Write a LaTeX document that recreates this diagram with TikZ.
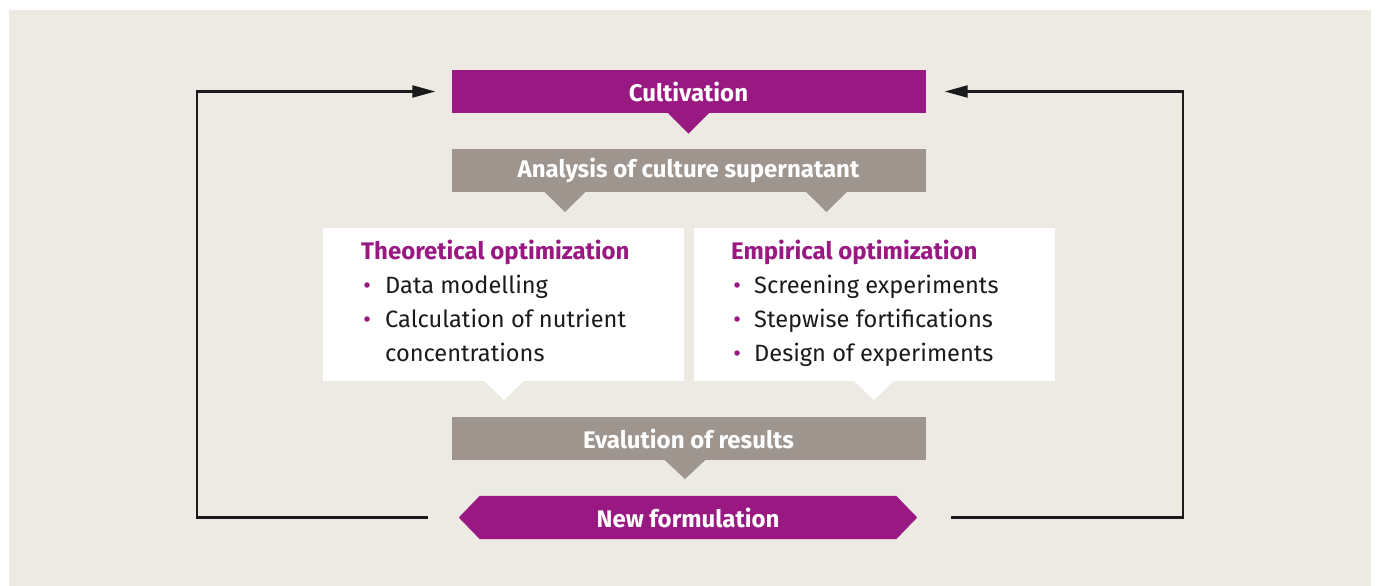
\documentclass[tikz,border=0pt]{standalone}
\usepackage{fontspec}
\setmainfont{Fira Sans}
\usetikzlibrary{arrows.meta,backgrounds}
\definecolor{bg}{RGB}{237,234,227}
\definecolor{purp}{RGB}{154,24,129}
\definecolor{greyb}{RGB}{158,149,143}
\definecolor{ink}{RGB}{26,26,26}
\tikzset{
 box/.style={minimum width=474pt, minimum height=43pt, inner sep=0pt, text=white, font=\fontsize{24}{28}\selectfont\bfseries},
 purpbox/.style={box, fill=purp},
 greybox/.style={box, fill=greyb},
 card/.style={fill=white, minimum width=361pt, minimum height=153pt, inner sep=0pt},
 head/.style={anchor=base west, text=purp, font=\fontsize{24}{28}\selectfont\bfseries, inner sep=0pt},
 item/.style={anchor=base west, text=ink, font=\fontsize{23.6}{28}\selectfont, inner sep=0pt},
 dot/.style={circle, fill=purp, minimum size=5.5pt, inner sep=0pt},
 loopline/.style={draw=ink, line width=2.2pt, -{Triangle[length=23pt,width=12pt]}},
}
\begin{document}
\begin{tikzpicture}[x=1pt,y=-1pt]
\useasboundingbox (0,0) rectangle (1376,586);
% top boxes
\node[purpbox] (cult) at (688.5,91.5) {Cultivation};
\fill[purp] ([xshift=-20.5pt]cult.south) -- ++(20.5,20.5) -- ++(20.5,-20.5) -- cycle;
\node[greybox] (anal) at (688.5,170.5) {Analysis of culture supernatant};
\fill[greyb] (544.5,191.9) -- (565,212) -- (585.5,191.9) -- cycle;
\fill[greyb] (806,191.9) -- (826.5,212) -- (847,191.9) -- cycle;
% cards
\node[card] (theo) at (503.5,304.5) {};
\node[card] (emp) at (874.5,304.5) {};
\fill[white] (484,380.9) -- (504,400) -- (524,380.9) -- cycle;
\fill[white] (854,380.9) -- (874,400) -- (894,380.9) -- cycle;
\node[head] (th) at (361,259) {Theoretical optimization};
\node[dot] (tb1) at (367,285) {};
\node[item] (t1) at (385,293) {Data modelling};
\node[dot] (tb2) at (367,319) {};
\node[item] (t2) at (385,327) {Calculation of nutrient};
\node[item] (t3) at (385,361) {concentrations};
\node[head] (eh) at (731,259) {Empirical optimization};
\node[dot] (eb1) at (737,285) {};
\node[item] (e1) at (754,293) {Screening experiments};
\node[dot] (eb2) at (737,319) {};
\node[item] (e2) at (754,327) {Stepwise fortifications};
\node[dot] (eb3) at (737,353) {};
\node[item] (e3) at (754,361) {Design of experiments};
% evaluation
\node[greybox] (eval) at (688.5,438.5) {Evalution of results};
\fill[greyb] (664.5,459.9) -- (685,479) -- (705.5,459.9) -- cycle;
% new formulation
\node[box, minimum width=458pt] (nf) at (688,517.5) {New formulation};
\begin{scope}[on background layer]
\fill[bg] (9,10) rectangle (1371,586);
\fill[purp] (nf.west) -- ([xshift=21pt]nf.north west) -- ([xshift=-21pt]nf.north east) -- (nf.east) -- ([xshift=-21pt]nf.south east) -- ([xshift=21pt]nf.south west) -- cycle;
\end{scope}
% loops
\coordinate (lc) at (197,517.5);
\coordinate (rc) at (1183,517.5);
\draw[loopline] ([xshift=-31pt]nf.west) -- (lc) |- ([xshift=-16pt]cult.west);
\draw[loopline] ([xshift=34pt]nf.east) -- (rc) |- ([xshift=19pt]cult.east);
\end{tikzpicture}
\end{document}
